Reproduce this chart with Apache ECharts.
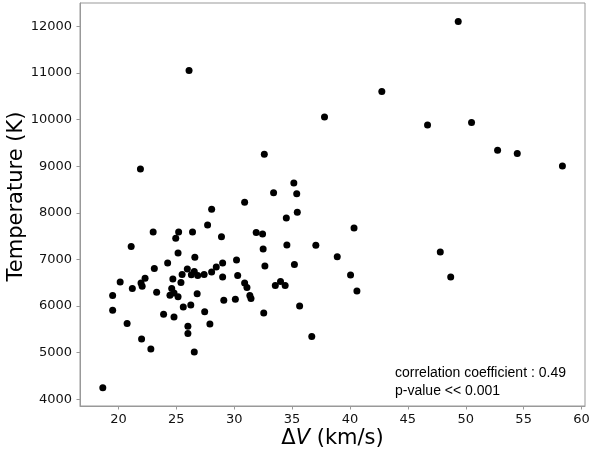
<!DOCTYPE html>
<html>
<head>
<meta charset="utf-8">
<script src="https://cdn.jsdelivr.net/npm/echarts@6/dist/echarts.min.js"></script>
<style>
html,body{margin:0;padding:0;background:#fff;}
#chart{width:589px;height:454px;}
</style>
</head>
<body>
<div id="chart"></div>
<script>
const deltaV = [32.6,21.9,33.4,30.9,28.05,27.7,23.0,25.2,24.95,26.4,28.9,31.9,32.45,21.1,32.5,25.15,26.6,24.25,30.2,29.0,32.65,23.1,25.95,28.45,25.5,26.55,26.3,26.85,27.4,28.05,29.0,30.3,22.3,24.7,20.15,21.95,22.05,25.4,21.2,30.9,31.1,33.55,34.0,34.4,23.3,24.6,24.8,24.45,25.15,26.8,19.5,31.35,31.45,29.1,30.1,19.5,20.75,22.0,22.8,23.9,24.8,25.6,26.25,26.0,26.0,26.55,27.45,27.9,32.55,18.65,35.15,35.4,35.45,34.5,40.35,34.55,37.05,38.9,35.2,40.05,40.6,35.65,36.7,26.1,37.8,42.75,49.35,46.7,50.5,52.75,54.45,58.35,47.8,48.7];
const temperature = [9255,8940,8430,8225,8075,7740,7590,7590,7455,7590,7490,7580,7545,7280,7225,7140,7050,6925,6990,6925,6860,6805,6795,6840,6680,6740,6675,6655,6680,6730,6625,6655,6600,6580,6515,6495,6425,6505,6380,6495,6400,6440,6530,6440,6295,6380,6280,6235,6200,6265,6225,6225,6165,6125,6145,5910,5625,5295,5080,5825,5765,5980,6025,5570,5415,5015,5880,5615,5850,4250,8640,8410,8015,7890,7675,7310,7305,7060,6890,6665,6325,6000,5350,11055,10055,10600,12105,9885,9935,9340,9270,9005,7160,6625];
const xTicks = [20,25,30,35,40,45,50,55,60];
const yTicks = [4000,5000,6000,7000,8000,9000,10000,11000,12000];
const annotationLines = ['correlation coefficient : 0.49','p-value << 0.001'];

const points = deltaV.map((v,i)=>[v, temperature[i]]);
const axisGray = '#999999';
const chart = echarts.init(document.getElementById('chart'), null, {renderer:'canvas'});
chart.setOption({
  animation:false,
  backgroundColor:'#ffffff',
  grid:{left:80,right:4,top:3,bottom:48,show:true,borderColor:axisGray,borderWidth:1,containLabel:false,outerBoundsMode:'none'},
  xAxis:{
    type:'value', min:16.68, max:60.3,
    name:'{a|Δ}{b|V}{a| (km/s)}', nameLocation:'middle', nameGap:22, nameMoveOverlap:false,
    nameTextStyle:{rich:{
      a:{fontFamily:'DejaVu Sans',fontSize:21,color:'#000'},
      b:{fontFamily:'DejaVu Sans',fontSize:21,fontStyle:'italic',color:'#000'}
    }},
    axisLine:{show:true,lineStyle:{color:axisGray,width:1}},
    axisTick:{show:true,inside:false,length:3.5,lineStyle:{color:axisGray},customValues:xTicks},
    axisLabel:{fontFamily:'DejaVu Sans',fontSize:13,color:'#111',margin:7,customValues:xTicks,formatter:v=>String(v)},
    splitLine:{show:false}
  },
  yAxis:{
    type:'value', min:3858, max:12500,
    name:'Temperature (K)', nameLocation:'middle', nameGap:53, nameMoveOverlap:false,
    nameTextStyle:{fontFamily:'DejaVu Sans',fontSize:21,color:'#000',padding:[0,0,0,16]},
    axisLine:{show:true,lineStyle:{color:axisGray,width:1}},
    axisTick:{show:true,inside:false,length:3.5,lineStyle:{color:axisGray},customValues:yTicks},
    axisLabel:{fontFamily:'DejaVu Sans',fontSize:13,color:'#111',margin:8,customValues:yTicks,formatter:v=>String(v)},
    splitLine:{show:false}
  },
  series:[{
    type:'scatter', data:points, symbol:'circle', symbolSize:7,
    itemStyle:{color:'#000000',opacity:1}, silent:true
  }],
  graphic:[{
    type:'text', left:395, top:364,
    style:{text:annotationLines.join('\n'), fontFamily:'Liberation Sans', fontSize:14, lineHeight:18, fill:'#000'}
  }]
});
</script>
</body>
</html>
